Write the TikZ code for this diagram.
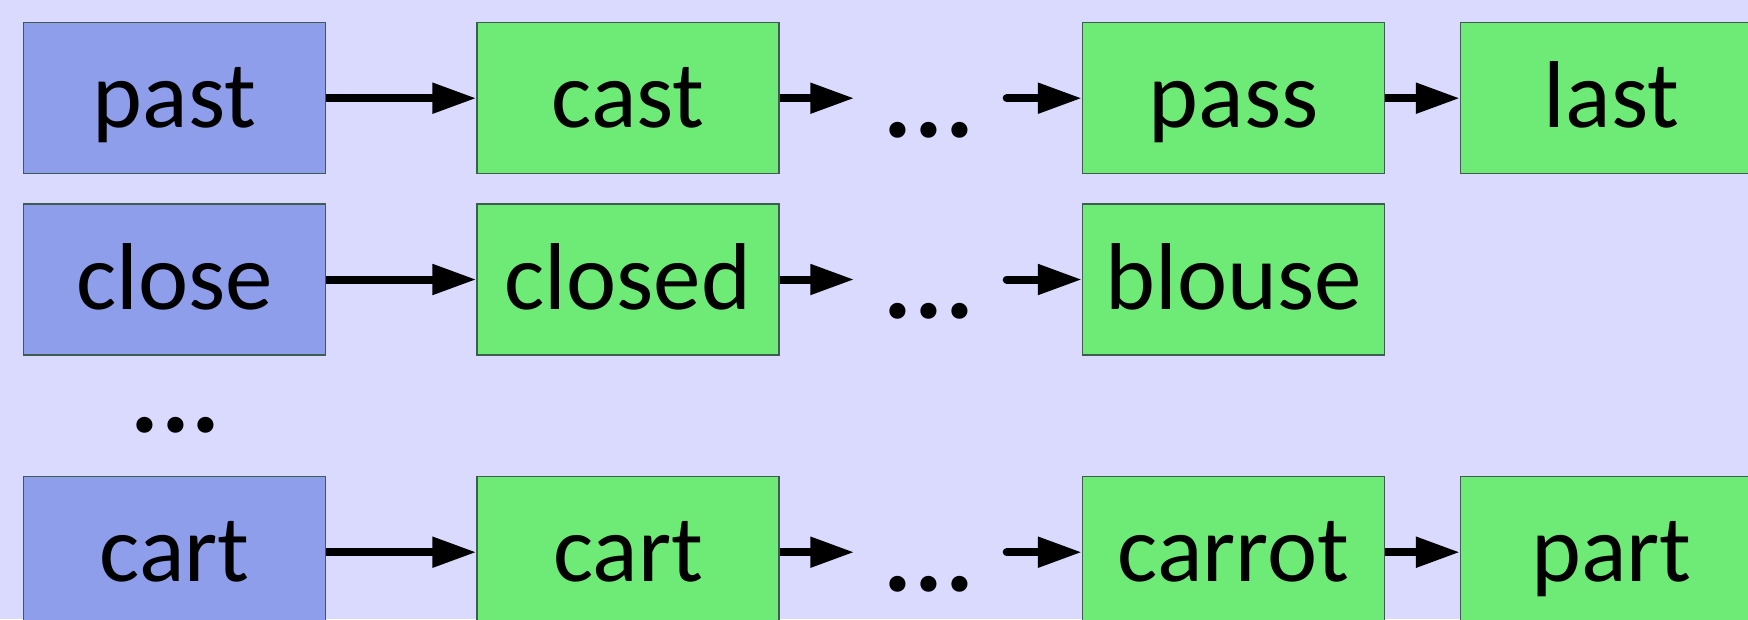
\documentclass[tikz,border=0pt]{standalone}
\usepackage{fontspec}
\setmainfont{Carlito}
\usetikzlibrary{arrows.meta}
\definecolor{bgc}{RGB}{218,218,255}
\definecolor{bluec}{RGB}{142,158,234}
\definecolor{greenc}{RGB}{110,234,118}
\definecolor{edgec}{RGB}{62,92,82}
\begin{document}
\begin{tikzpicture}[x=1pt,y=-1pt,
  wbox/.style={rectangle, draw=edgec, line width=1.2pt, minimum width=302pt,
    minimum height=151pt, inner sep=0pt, text height=72pt, text depth=13pt,
    font=\fontsize{95}{110}\selectfont},
  srcbox/.style={wbox, fill=bluec},
  dstbox/.style={wbox, fill=greenc},
  dotsnode/.style={inner sep=0pt, anchor=base, font=\fontsize{108}{120}\selectfont\bfseries},
  conn/.style={line width=8pt, -{Triangle[length=44pt,width=29pt]}},
  connr/.style={conn, line cap=round}
]
\fill[bgc] (0,0) rectangle (1748,619);
\clip (0,0) rectangle (1748,619);
% row 1
\node[srcbox] (a1) at (174.5,98.2) {past};
\node[dstbox] (b1) at (628,98.2) {cast};
\node[dotsnode, minimum width=149pt] (m1) at (929,137) {.\kern2pt.\kern2pt.};
\node[dstbox] (c1) at (1233.5,98.2) {pass};
\node[dstbox] (e1) at (1611.5,98.2) {last};
% row 2
\node[srcbox] (a2) at (174.5,279.5) {close};
\node[dstbox] (b2) at (628,279.5) {closed};
\node[dotsnode, minimum width=149pt] (m2) at (929,318.5) {.\kern2pt.\kern2pt.};
\node[dstbox] (c2) at (1233.5,279.5) {blouse};
% vertical dots
\node[dotsnode] (vd) at (175.5,432) {.\kern2pt.\kern2pt.};
% row 3
\node[srcbox] (a3) at (174.5,552.2) {cart};
\node[dstbox] (b3) at (628,552.2) {cart};
\node[dotsnode, minimum width=149pt] (m3) at (929,591) {.\kern2pt.\kern2pt.};
\node[dstbox] (c3) at (1233.5,552.2) {carrot};
\node[dstbox] (e3) at (1611.5,552.2) {part};
% connectors
\foreach \r in {1,2,3}{
  \draw[conn] (a\r.east) -- (b\r.west);
  \draw[conn] (b\r.east) -- (b\r.east -| m\r.west);
  \draw[connr] ([xshift=3pt]m\r.east |- c\r.west) -- (c\r.west);
}
\draw[conn] (c1.east) -- (e1.west);
\draw[conn] (c3.east) -- (e3.west);
\end{tikzpicture}
\end{document}
